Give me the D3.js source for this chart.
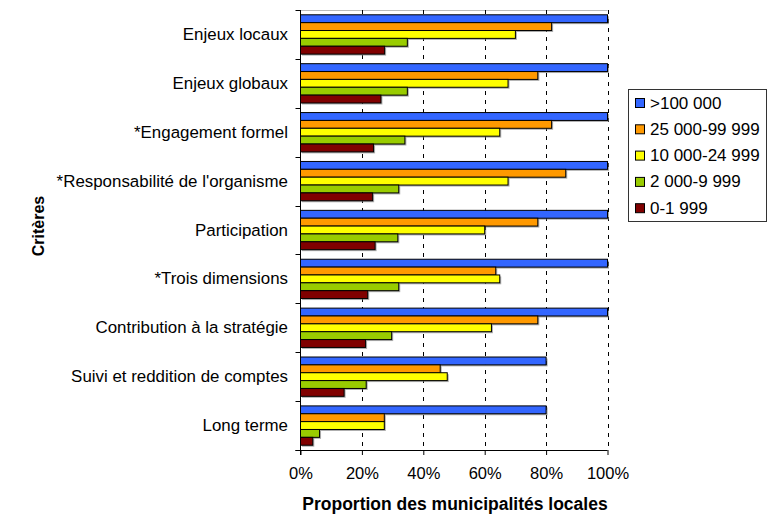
<!DOCTYPE html>
<html>
<head>
<meta charset="utf-8">
<script src="https://cdn.jsdelivr.net/npm/d3@7"></script>
<style>
  html, body { margin: 0; padding: 0; background: #fff; }
  svg { display: block; font-family: "Liberation Sans", Arial, sans-serif; }
</style>
</head>
<body>
<svg id="chart" width="779" height="516"></svg>
<script>
const categories = [
  "Enjeux locaux",
  "Enjeux globaux",
  "*Engagement formel",
  "*Responsabilité de l'organisme",
  "Participation",
  "*Trois dimensions",
  "Contribution à la stratégie",
  "Suivi et reddition de comptes",
  "Long terme"
];
const seriesNames = [">100 000", "25 000-99 999", "10 000-24 999", "2 000-9 999", "0-1 999"];
const seriesColors = ["#3366FF", "#FF9900", "#FFFF00", "#99CC00", "#800000"];
const v100000 = [100, 100, 100, 100, 100, 100, 100, 80, 80];
const v25000  = [81.8, 77.3, 81.8, 86.4, 77.3, 63.6, 77.3, 45.5, 27.3];
const v10000  = [70.0, 67.6, 64.9, 67.6, 60.0, 64.9, 62.2, 47.8, 27.3];
const v2000   = [34.8, 34.8, 34.0, 32.0, 31.7, 32.0, 29.7, 21.4, 6.2];
const v0      = [27.4, 26.2, 23.8, 23.5, 24.3, 21.9, 21.2, 14.2, 4.0];
const seriesValues = [v100000, v25000, v10000, v2000, v0];
const xTicks = [0, 20, 40, 60, 80, 100];
const xTitle = "Proportion des municipalités locales";
const yTitle = "Critères";

(function () {
const svg = d3.select("#chart");
const pLeft = 300.5, pRight = 607.5, pTop = 10, pBottom = 450;

const x = d3.scaleLinear().domain([0, 100]).range([pLeft, pRight]);
const y = d3.scaleBand().domain(categories).range([pTop, pBottom]).paddingInner(0.196).paddingOuter(0.098);
const ySub = d3.scaleBand().domain(d3.range(seriesNames.length)).range([0, y.bandwidth()]);

// top border line
svg.append("line").attr("x1", pLeft).attr("x2", pRight).attr("y1", pTop + 0.5).attr("y2", pTop + 0.5)
  .attr("stroke", "#bbb").attr("stroke-width", 1);

// gridlines
svg.append("g").selectAll("line").data(xTicks.filter(d => d > 0)).join("line")
  .attr("x1", d => Math.round(x(d)) + 0.5).attr("x2", d => Math.round(x(d)) + 0.5)
  .attr("y1", pTop).attr("y2", pBottom)
  .attr("stroke", "#000").attr("stroke-width", 1).attr("stroke-dasharray", "4,5");

// bars
const groups = svg.append("g").selectAll("g").data(categories).join("g")
  .attr("transform", d => `translate(0,${y(d)})`);
seriesValues.forEach((vals, si) => {
  groups.append("rect")
    .attr("x", pLeft + 1.5).attr("y", (d, i) => ySub(si) + 1.5)
    .attr("width", (d, i) => x(vals[i]) - pLeft).attr("height", ySub.bandwidth())
    .attr("fill", "#777").attr("opacity", 0.6);
  groups.append("rect")
    .attr("x", pLeft).attr("y", (d, i) => ySub(si))
    .attr("width", (d, i) => x(vals[i]) - pLeft).attr("height", ySub.bandwidth())
    .attr("fill", seriesColors[si]).attr("stroke", "#000").attr("stroke-width", 1);
});

// y axis
const yAxisG = svg.append("g");
yAxisG.append("line").attr("x1", pLeft).attr("x2", pLeft).attr("y1", pTop).attr("y2", pBottom + 5)
  .attr("stroke", "#000");
const bounds = categories.map(c => y(c) - y.step() * y.paddingInner() / 2);
bounds.push(pBottom);
bounds[0] = pTop;
yAxisG.selectAll("line.tk").data(bounds).join("line").attr("class", "tk")
  .attr("x1", pLeft - 5).attr("x2", pLeft).attr("y1", d => Math.round(d) + 0.5).attr("y2", d => Math.round(d) + 0.5)
  .attr("stroke", "#000");
yAxisG.selectAll("text").data(categories).join("text")
  .attr("x", 288).attr("y", d => y(d) + y.bandwidth() / 2)
  .attr("text-anchor", "end").attr("dominant-baseline", "central")
  .attr("font-size", "16.9px").attr("fill", "#000").text(d => d);

// x axis
const xAxisG = svg.append("g").attr("transform", `translate(0,${pBottom})`);
xAxisG.call(d3.axisBottom(x).tickValues(xTicks).tickFormat(d => d + "%").tickSize(5).tickPadding(12));
xAxisG.select(".domain").attr("d", `M${pLeft - 5},0.5H${pRight}`).attr("stroke", "#000");
xAxisG.selectAll("text").attr("font-size", "16.5px").attr("font-family", "Liberation Sans, Arial, sans-serif").attr("fill", "#000");

// axis titles
svg.append("text").attr("x", 455).attr("y", 510).attr("text-anchor", "middle")
  .attr("font-size", "17.5px").attr("font-weight", "bold").text(xTitle);
svg.append("text").attr("transform", "translate(44,226) rotate(-90)").attr("text-anchor", "middle")
  .attr("font-size", "16px").attr("font-weight", "bold").text(yTitle);

// legend
const lg = svg.append("g");
lg.append("rect").attr("x", 628.5).attr("y", 89.5).attr("width", 138).attr("height", 132)
  .attr("fill", "#fff").attr("stroke", "#333");
const items = lg.selectAll("g").data(seriesNames).join("g")
  .attr("transform", (d, i) => `translate(0,${103 + i * 26.3})`);
items.append("rect").attr("x", 635.5).attr("y", -4.5).attr("width", 9).attr("height", 9)
  .attr("fill", (d, i) => seriesColors[i]).attr("stroke", "#000");
items.append("text").attr("x", 650).attr("y", 0).attr("dominant-baseline", "central")
  .attr("font-size", "17px").text(d => d);
})();
</script>
</body>
</html>
